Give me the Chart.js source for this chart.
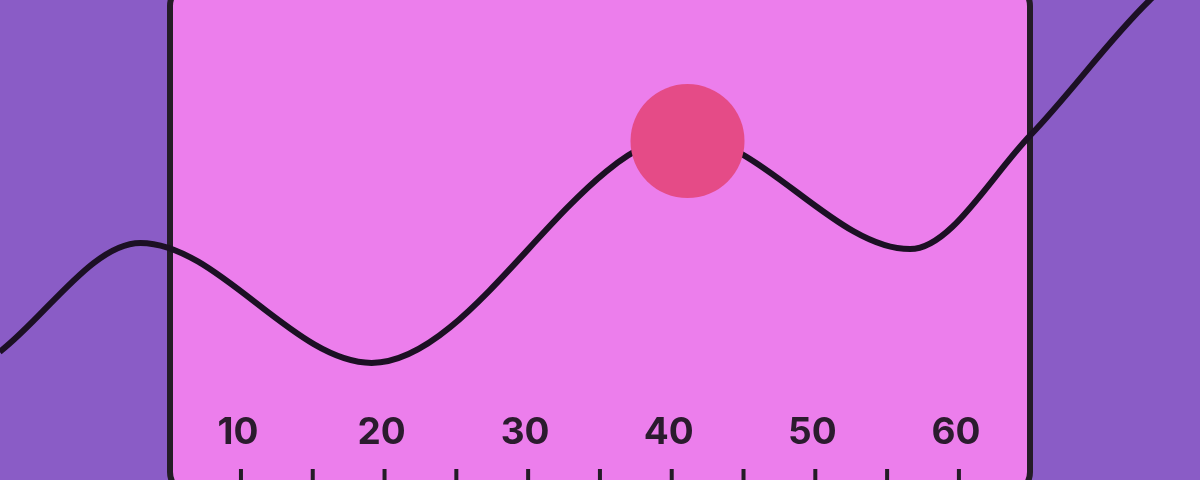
<!DOCTYPE html>
<html>
<head>
<meta charset="utf-8">
<script src="https://cdn.jsdelivr.net/npm/chart.js@4"></script>
<style>
  html, body { margin: 0; padding: 0; background: #8a5cc6; }
  #wrap { width: 1200px; height: 480px; }
</style>
</head>
<body>
<div id="wrap"><canvas id="waveChart"></canvas></div>
<script>
// courbe (sommets et creux)
const curveX = [-6.8, 3.0, 19.1, 40.9, 56.6, 65.0, 73.3, 76.8];
const curveY = [26.7, 49.4, 24.4, 71.7, 48.1, 71.9, 100, 108.3];

// point mis en avant
const dotX = [41.1];
const dotY = [70.6];

// graduations
const tickLabels = ['10', '20', '30', '40', '50', '60'];
const labelValues = [10, 20, 30, 40, 50, 60];
const tickMarks = [10, 15, 20, 25, 30, 35, 40, 45, 50, 55, 60];

const curveData = curveX.map((x, i) => ({ x: x, y: curveY[i] }));
const dotData = dotX.map((x, i) => ({ x: x, y: dotY[i] }));

// fond + cadre rose
const panelPlugin = {
  id: 'panel',
  beforeDatasetsDraw(chart) {
    const c = chart.ctx;
    c.save();
    c.fillStyle = '#8a5cc6';
    c.fillRect(0, 0, chart.width, chart.height);
    c.beginPath();
    c.roundRect(170, -16, 860, 510, 22);
    c.fillStyle = '#ec7eec';
    c.fill();
    c.lineWidth = 6;
    c.strokeStyle = '#241c27';
    c.stroke();

    const xs = chart.scales.x;
    c.fillStyle = '#2b1b2e';
    c.font = '700 37px Inter, "Open Sans", sans-serif';
    c.textAlign = 'center';
    c.textBaseline = 'alphabetic';
    tickLabels.forEach((t, i) => {
      c.fillText(t, xs.getPixelForValue(labelValues[i]) - 3, 444);
    });

    c.fillStyle = '#241c27';
    tickMarks.forEach(v => {
      const px = xs.getPixelForValue(v);
      c.fillRect(px - 2, 469, 4, 12);
    });
    c.restore();
  }
};

const ctx = document.getElementById('waveChart').getContext('2d');

const myChart = new Chart(ctx, {
  type: 'line',
  data: {
    datasets: [
      {
        type: 'scatter',
        data: dotData,
        pointRadius: 57,
        pointBackgroundColor: '#e54b87',
        pointBorderWidth: 0,
        showLine: false,
        clip: false,
        order: 0,
      },
      {
        data: curveData,
        borderColor: '#1c1024',
        borderWidth: 6,
        cubicInterpolationMode: 'monotone',
        pointRadius: 0,
        fill: false,
        order: 1,
      },
    ],
  },
  options: {
    responsive: true,
    maintainAspectRatio: false,
    animation: false,
    events: [],
    layout: { padding: 0, autoPadding: false },
    plugins: { legend: { display: false }, tooltip: { enabled: false } },
    scales: {
      x: { type: 'linear', min: -6.78, max: 76.79, display: false },
      y: { type: 'linear', min: 0, max: 100, display: false },
    },
  },
  plugins: [panelPlugin],
});
</script>
</body>
</html>
